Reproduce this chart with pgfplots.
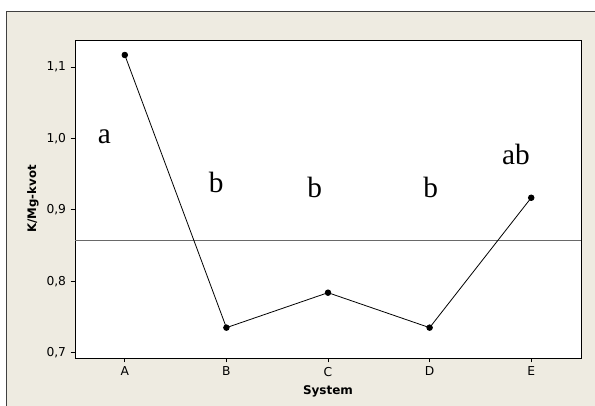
\documentclass[border=0pt]{standalone}
\usepackage{pgfplots}
\pgfplotsset{compat=1.18}
\usepackage{fontspec}
\setmainfont{DejaVu Sans}
\newfontfamily\letterfont{Liberation Serif}
\definecolor{panel}{RGB}{238,235,225}
\definecolor{meanline}{RGB}{105,105,105}

\begin{document}
\begin{tikzpicture}
% page 595x406 px at 0.75pt per px
\path[use as bounding box, fill=white] (0,0) rectangle (446.25pt,304.5pt);
\fill[panel] (4.5pt,0) rectangle (446.25pt,296.25pt);
\draw[black!75, line width=0.6pt] (4.5pt,0) -- (4.5pt,296.25pt) -- (446.25pt,296.25pt);

\begin{axis}[
    at={(56.25pt,36pt)}, anchor=south west,
    scale only axis,
    width=379.5pt, height=238.5pt,
    axis background/.style={fill=white},
    axis line style={black, line width=0.7pt},
    xmin=-0.49, xmax=4.49,
    ymin=0.6925, ymax=1.138,
    xtick={0,1,2,3,4},
    xticklabels={A,B,C,D,E},
    ytick={0.7,0.8,0.9,1.0,1.1},
    yticklabel style={/pgf/number format/.cd, use comma, fixed, fixed zerofill, precision=1},
    /pgf/number format/assume math mode=true,
    tick align=outside,
    tick pos=left,
    major tick length=3.2pt,
    tick style={black, line width=0.6pt},
    tick label style={font=\fontsize{9.2}{11}\selectfont},
    xlabel={System},
    ylabel={K/Mg-kvot},
    every axis x label/.style={at={(axis description cs:0.5,-0.104)}, anchor=center,
        font=\bfseries\fontsize{9}{10}\selectfont},
    every axis y label/.style={at={(axis description cs:-0.083,0.5)}, rotate=90, anchor=center,
        font=\bfseries\fontsize{8.8}{10}\selectfont},
    clip=false,
]
% grand mean
\addplot[meanline, line width=0.7pt] coordinates {(-0.49,0.8576) (4.49,0.8576)};
% main effect means
\addplot[black, line width=0.6pt, mark=*, mark size=2.1pt] coordinates {
    (0,1.117) (1,0.735) (2,0.784) (3,0.735) (4,0.917)
};
\node[font=\letterfont\fontsize{22}{24}\selectfont] at (axis cs:-0.2,1.002) {a};
\node[font=\letterfont\fontsize{22}{24}\selectfont] at (axis cs:0.9,0.938) {b};
\node[font=\letterfont\fontsize{22}{24}\selectfont] at (axis cs:1.87,0.932) {b};
\node[font=\letterfont\fontsize{22}{24}\selectfont] at (axis cs:3.01,0.932) {b};
\node[font=\letterfont\fontsize{22}{24}\selectfont] at (axis cs:3.85,0.977) {ab};
\end{axis}
\end{tikzpicture}
\end{document}
